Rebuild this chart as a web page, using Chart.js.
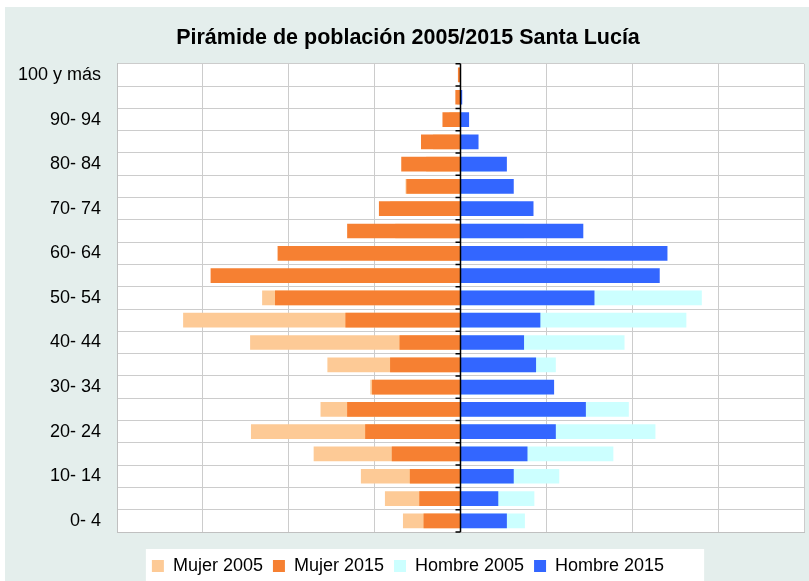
<!DOCTYPE html>
<html lang="es">
<head>
<meta charset="utf-8">
<title>Pirámide de población 2005/2015 Santa Lucía</title>
<script src="https://cdn.jsdelivr.net/npm/chart.js@4.4.1/dist/chart.umd.min.js"></script>
<style>
    body { margin: 0; background: #ffffff; }
    #contenedor { width: 809px; height: 581px; }
</style>
</head>
<body>
<div id="contenedor"><canvas id="grafico" width="809" height="581"></canvas></div>
<script>
// Grupos de edad (de abajo hacia arriba)
const grupos = ['0- 4', '5- 9', '10- 14', '15- 19', '20- 24', '25- 29', '30- 34', '35- 39',
    '40- 44', '45- 49', '50- 54', '55- 59', '60- 64', '65- 69', '70- 74', '75- 79',
    '80- 84', '85- 89', '90- 94', '95- 99', '100 y más'];

// Porcentaje de población por grupo
const mujer2005 = [0.67, 0.88, 1.16, 1.71, 2.44, 1.63, 1.05, 1.55, 2.45, 3.23, 2.31,
    1.40, 0.98, 0.76, 0.82, 0.64, 0.40, 0.32, 0.13, 0.04, 0.02];
const mujer2015 = [0.43, 0.48, 0.59, 0.80, 1.11, 1.32, 1.03, 0.82, 0.71, 1.34, 2.16,
    2.91, 2.13, 1.32, 0.95, 0.63, 0.69, 0.46, 0.21, 0.06, 0.03];
const hombre2005 = [0.75, 0.86, 1.15, 1.78, 2.27, 1.96, 1.00, 1.11, 1.91, 2.63, 2.81,
    1.68, 1.00, 0.74, 0.67, 0.46, 0.35, 0.10, 0.05, 0.01, 0.00];
const hombre2015 = [0.54, 0.44, 0.62, 0.78, 1.11, 1.46, 1.09, 0.88, 0.74, 0.93, 1.56,
    2.32, 2.41, 1.43, 0.85, 0.62, 0.54, 0.21, 0.10, 0.02, 0.005];

const fuente = "'Liberation Sans', Arial, sans-serif";

// Fondo gris verdoso, area blanca y caja de la leyenda
const pluginFondo = {
    id: 'fondo',
    beforeDraw: function(chart) {
        const ctx = chart.ctx;
        const area = chart.chartArea;
        ctx.save();
        ctx.fillStyle = '#e4eeec';
        ctx.fillRect(5, 7, chart.width - 5, chart.height - 7);
        ctx.fillStyle = '#ffffff';
        ctx.fillRect(area.left, area.top, area.right - area.left, area.bottom - area.top);
        const cajas = chart.legend.legendHitBoxes;
        if (cajas && cajas.length) {
            const izq = cajas[0].left - 6;
            const der = cajas[cajas.length - 1].left + cajas[cajas.length - 1].width + 40;
            const arriba = cajas[0].top - 8;
            ctx.fillRect(izq, arriba, der - izq, chart.height - arriba);
        }
        ctx.restore();
    },
    afterDatasetsDraw: function(chart) {
        // Eje central con sus marcas
        const ctx = chart.ctx;
        const area = chart.chartArea;
        const x0 = chart.scales.x.getPixelForValue(0);
        const escalaY = chart.scales.y;
        const paso = Math.abs(escalaY.getPixelForValue(1) - escalaY.getPixelForValue(0));
        ctx.save();
        ctx.strokeStyle = '#000000';
        ctx.lineWidth = 1.5;
        ctx.beginPath();
        ctx.moveTo(x0, area.top);
        ctx.lineTo(x0, area.bottom);
        for (let i = 0; i <= grupos.length; i++) {
            const y = area.bottom - i * paso;
            ctx.moveTo(x0 - 5, y);
            ctx.lineTo(x0, y);
        }
        ctx.stroke();
        ctx.restore();
    }
};

function crearPiramide() {
    const ctx = document.getElementById('grafico').getContext('2d');

    new Chart(ctx, {
        type: 'bar',
        data: {
            labels: grupos,
            datasets: [
                {
                    label: 'Mujer 2005',
                    data: mujer2005.map(v => -v),
                    backgroundColor: '#fdca96',
                    order: 1
                },
                {
                    label: 'Mujer 2015',
                    data: mujer2015.map(v => -v),
                    backgroundColor: '#f68032',
                    order: 0
                },
                {
                    label: 'Hombre 2005',
                    data: hombre2005,
                    backgroundColor: '#ccffff',
                    order: 1
                },
                {
                    label: 'Hombre 2015',
                    data: hombre2015,
                    backgroundColor: '#3366ff',
                    order: 0
                }
            ]
        },
        options: {
            indexAxis: 'y',
            responsive: false,
            animation: false,
            datasets: {
                bar: {
                    grouped: false,
                    categoryPercentage: 1,
                    barPercentage: 0.66
                }
            },
            layout: {
                padding: { left: 12, right: 5, top: 12, bottom: -4 }
            },
            plugins: {
                title: {
                    display: true,
                    text: 'Pirámide de población 2005/2015 Santa Lucía',
                    color: '#000000',
                    font: { family: fuente, size: 21.5, weight: 'bold' },
                    padding: { top: 13, bottom: 13 }
                },
                legend: {
                    position: 'bottom',
                    title: {
                        display: true,
                        text: '',
                        font: { size: 10 },
                        padding: { top: 3, bottom: 0 }
                    },
                    labels: {
                        boxWidth: 12,
                        boxHeight: 12,
                        padding: 10,
                        color: '#000000',
                        font: { family: fuente, size: 18 },
                        sort: (a, b) => a.datasetIndex - b.datasetIndex
                    }
                },
                tooltip: { enabled: false }
            },
            scales: {
                x: {
                    min: -4,
                    max: 4,
                    ticks: { display: false, stepSize: 1 },
                    grid: { color: '#cccccc', lineWidth: 1, drawTicks: false },
                    border: { color: '#c0c0c0' }
                },
                y: {
                    reverse: true,
                    ticks: {
                        autoSkip: false,
                        padding: 16,
                        color: '#000000',
                        font: { family: fuente, size: 18 },
                        callback: function(valor, indice) {
                            return indice % 2 === 0 ? grupos[indice] : '';
                        }
                    },
                    grid: { offset: true, color: '#cccccc', lineWidth: 1, drawTicks: false },
                    border: { color: '#c0c0c0' },
                    afterFit: function(escala) {
                        escala.width = 105;
                    }
                }
            }
        },
        plugins: [pluginFondo]
    });
}

crearPiramide();
</script>
</body>
</html>
